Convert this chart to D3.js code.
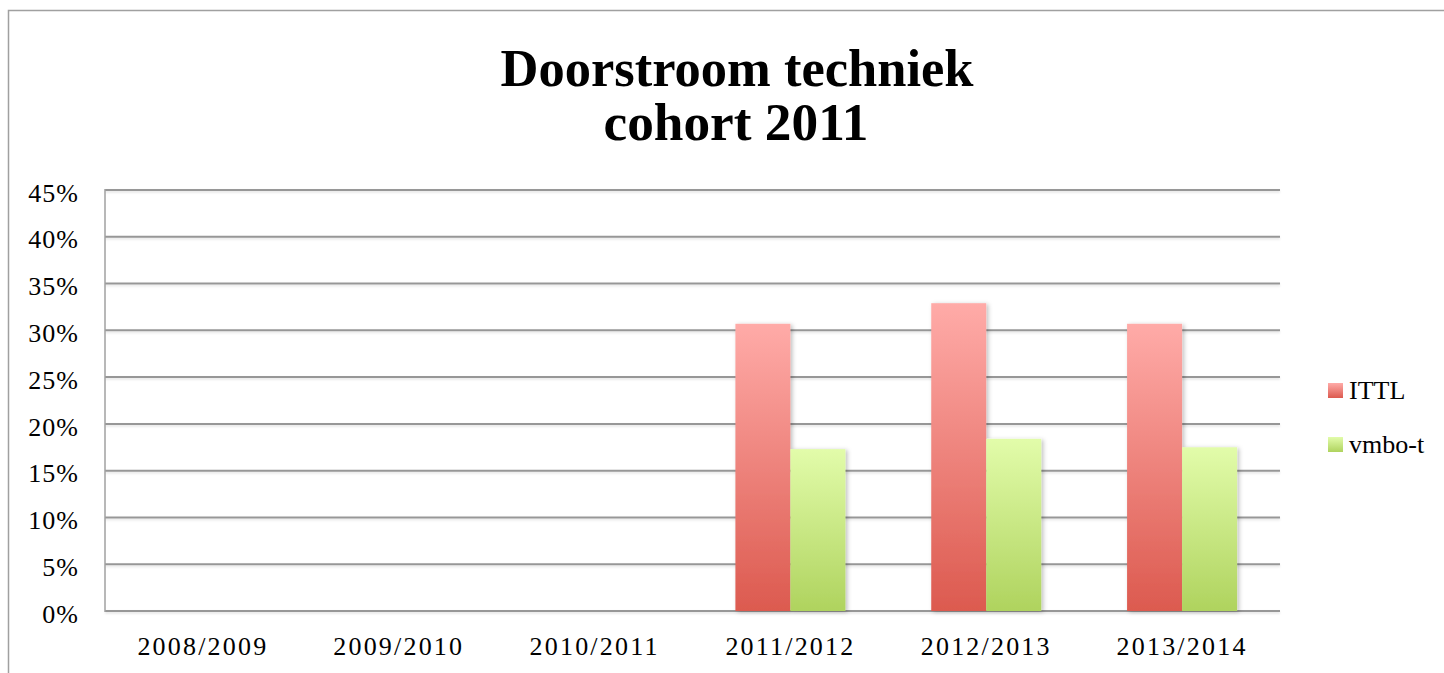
<!DOCTYPE html>
<html><head><meta charset="utf-8">
<script src="https://cdn.jsdelivr.net/npm/d3@7/dist/d3.min.js"></script>
<style>body{margin:0;background:#fff;}svg{display:block;}</style>
</head><body>
<svg id="c" width="1444" height="673"></svg>
<script>
const categories = ["2008/2009","2009/2010","2010/2011","2011/2012","2012/2013","2013/2014"];
const seriesNames = ["ITTL","vmbo-t"];
const ittl = [0, 0, 0, 0.307, 0.329, 0.307];
const vmbo = [0, 0, 0, 0.173, 0.184, 0.175];
const yTicks = [0,0.05,0.10,0.15,0.20,0.25,0.30,0.35,0.40,0.45];
const titleLines = ["Doorstroom techniek","cohort 2011"];

const svg = d3.select("#c");
const serif = "'Liberation Serif','DejaVu Serif',serif";
const L = 105, R = 1280, T = 190, B = 611;

// outer frame
svg.append("rect").attr("x",8.5).attr("y",10.5).attr("width",1500).attr("height",1000)
  .attr("fill","none").attr("stroke","#a0a0a0").attr("stroke-width",1.5);

const defs = svg.append("defs");
const g1 = defs.append("linearGradient").attr("id","gR").attr("x1",0).attr("y1",0).attr("x2",0).attr("y2",1);
g1.append("stop").attr("offset","0%").attr("stop-color","#ffaba8");
g1.append("stop").attr("offset","100%").attr("stop-color","#dc5a4f");
const g2 = defs.append("linearGradient").attr("id","gG").attr("x1",0).attr("y1",0).attr("x2",0).attr("y2",1);
g2.append("stop").attr("offset","0%").attr("stop-color","#e2fcaa");
g2.append("stop").attr("offset","100%").attr("stop-color","#afd35e");
const f = defs.append("filter").attr("id","sh").attr("x","-20%").attr("y","-5%").attr("width","150%").attr("height","115%");
f.append("feDropShadow").attr("dx",2).attr("dy",1).attr("stdDeviation",2).attr("flood-color","#000").attr("flood-opacity",0.25);
const fl = defs.append("filter").attr("id","lsh").attr("x","-5%").attr("y","-200%").attr("width","110%").attr("height","500%");
fl.append("feDropShadow").attr("dx",0).attr("dy",1.5).attr("stdDeviation",1).attr("flood-color","#000").attr("flood-opacity",0.12);

const x = d3.scaleBand().domain(categories).range([L,R]).paddingInner(0).paddingOuter(0);
const x1 = d3.scaleBand().domain(seriesNames).range([0,x.bandwidth()]).paddingInner(0).paddingOuter(0.78);
const y = d3.scaleLinear().domain([0,0.45]).range([B,T]);

// gridlines
const grid = svg.append("g").attr("filter","url(#lsh)");
grid.selectAll("line").data(yTicks).join("line")
  .attr("x1",L).attr("x2",R).attr("y1",d=>y(d)).attr("y2",d=>y(d))
  .attr("stroke","#979797").attr("stroke-width",2);
svg.append("line").attr("x1",L).attr("x2",L).attr("y1",T-1).attr("y2",B+1)
  .attr("stroke","#a0a0a0").attr("stroke-width",1.5);

// y axis labels
const yAxis = d3.axisLeft(y).tickValues(yTicks).tickFormat(d=>Math.round(d*100)+"%").tickSize(0).tickPadding(26);
const ya = svg.append("g").attr("transform",`translate(${L},0)`).call(yAxis);
ya.select(".domain").remove();
ya.selectAll("text").attr("font-family",serif).attr("font-size",26).attr("fill","#000").attr("dy","0.43em")
  .attr("letter-spacing","1px");

// x axis labels
const xAxis = d3.axisBottom(x).tickSize(0).tickPadding(26);
const xa = svg.append("g").attr("transform",`translate(0,${B})`).call(xAxis);
xa.select(".domain").remove();
xa.selectAll("text").attr("font-family",serif).attr("font-size",26).attr("fill","#000")
  .attr("letter-spacing","2.2px");

// bars
const data = seriesNames.map((s,i)=>({name:s, values: i===0?ittl:vmbo, fill: i===0?"url(#gR)":"url(#gG)"}));
const bars = svg.append("g").attr("filter","url(#sh)");
data.forEach(s=>{
  bars.append("g").selectAll("rect").data(s.values.map((v,j)=>({c:categories[j],v})).filter(d=>d.v>0)).join("rect")
    .attr("x",d=>x(d.c)+x1(s.name)).attr("width",x1.bandwidth())
    .attr("y",d=>y(d.v)).attr("height",d=>B-y(d.v)).attr("fill",s.fill);
});

// title
const tt = svg.append("g");
tt.append("text").attr("x",737).attr("y",86).attr("text-anchor","middle")
  .attr("font-family",serif).attr("font-weight","bold").attr("font-size",52)
  .attr("textLength",473).attr("lengthAdjust","spacingAndGlyphs").text(titleLines[0]);
tt.append("text").attr("x",736).attr("y",140).attr("text-anchor","middle")
  .attr("font-family",serif).attr("font-weight","bold").attr("font-size",52)
  .attr("textLength",265).attr("lengthAdjust","spacingAndGlyphs").text(titleLines[1]);

// legend
const lg = svg.append("g").selectAll("g").data(data).join("g")
  .attr("transform",(d,i)=>`translate(1328,${383+i*54})`);
lg.append("rect").attr("width",15).attr("height",15).attr("fill",d=>d.fill);
lg.append("text").attr("x",21).attr("y",16).attr("font-family",serif).attr("font-size",26).attr("fill","#000").text(d=>d.name);
</script>
</body></html>
